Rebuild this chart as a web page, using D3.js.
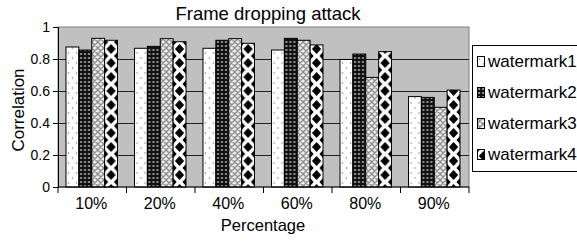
<!DOCTYPE html>
<html>
<head>
<meta charset="utf-8">
<script src="https://cdn.jsdelivr.net/npm/d3@7"></script>
<style>
  body { margin: 0; background: #fff; }
  svg text { font-family: Arial, "Liberation Sans", sans-serif; fill: #000; }
</style>
</head>
<body>
<div id="chart"></div>
<script>
// values
var categories = ["10%", "20%", "40%", "60%", "80%", "90%"];
var seriesNames = ["watermark1", "watermark2", "watermark3", "watermark4"];
var watermark1 = [0.875, 0.867, 0.867, 0.856, 0.797, 0.565];
var watermark2 = [0.856, 0.879, 0.917, 0.929, 0.831, 0.560];
var watermark3 = [0.929, 0.927, 0.927, 0.917, 0.685, 0.498];
var watermark4 = [0.917, 0.908, 0.898, 0.888, 0.846, 0.606];
var yTicks = [0, 0.2, 0.4, 0.6, 0.8, 1];

var seriesValues = [watermark1, watermark2, watermark3, watermark4];

var width = 577, height = 242;
var plot = { left: 58, right: 469, top: 27, bottom: 187 };

var svg = d3.select('#chart').append('svg')
    .attr('width', width)
    .attr('height', height);

var x0 = d3.scaleBand().domain(categories).range([plot.left, plot.right]);
var x1 = d3.scaleBand().domain(seriesNames).range([8, 59.5]);
var y = d3.scaleLinear().domain([0, 1]).range([plot.bottom, plot.top]);
var bw = x1.bandwidth();

// fill patterns (like the old b/w office charts)
var defs = svg.append('defs');

var p1 = defs.append('pattern').attr('id', 'pat0')
    .attr('patternUnits', 'userSpaceOnUse').attr('width', 8).attr('height', 10);
p1.append('rect').attr('width', 8).attr('height', 10).attr('fill', '#fff');
p1.append('circle').attr('cx', 2.5).attr('cy', 3).attr('r', 0.8).attr('fill', '#888');
p1.append('circle').attr('cx', 6.5).attr('cy', 8).attr('r', 0.8).attr('fill', '#888');

var p2 = defs.append('pattern').attr('id', 'pat1')
    .attr('patternUnits', 'userSpaceOnUse').attr('width', 4).attr('height', 4);
p2.append('rect').attr('width', 4).attr('height', 4).attr('fill', '#111');
p2.append('rect').attr('x', 1).attr('y', 1).attr('width', 2.2).attr('height', 2)
    .attr('rx', 0.8).attr('fill', '#9a9a9a');

var p3 = defs.append('pattern').attr('id', 'pat2')
    .attr('patternUnits', 'userSpaceOnUse').attr('width', 6).attr('height', 6);
p3.append('rect').attr('width', 6).attr('height', 6).attr('fill', '#f4f4f4');
p3.append('path').attr('d', 'M0,0L6,6M6,0L0,6M-1,5L1,7M5,-1L7,1')
    .attr('stroke', '#8a8a8a').attr('stroke-width', 1.4);

var p4 = defs.append('pattern').attr('id', 'pat3')
    .attr('patternUnits', 'userSpaceOnUse').attr('width', bw).attr('height', 14);
p4.append('rect').attr('width', bw).attr('height', 14).attr('fill', '#fff');
p4.append('path')
    .attr('d', 'M' + (bw / 2) + ',2L' + (bw / 2 + 4.6) + ',7L' + (bw / 2) + ',12L' + (bw / 2 - 4.6) + ',7Z')
    .attr('fill', '#000');
[[0, 0], [bw, 0], [0, 14], [bw, 14]].forEach(function (c) {
    p4.append('path')
        .attr('d', 'M' + c[0] + ',' + (c[1] - 4) + 'L' + (c[0] + 3.5) + ',' + c[1] + 'L' + c[0] + ',' + (c[1] + 4) + 'L' + (c[0] - 3.5) + ',' + c[1] + 'Z')
        .attr('fill', '#000');
});

// plot area
svg.append('rect')
    .attr('x', plot.left).attr('y', plot.top)
    .attr('width', plot.right - plot.left).attr('height', plot.bottom - plot.top)
    .attr('fill', '#c0c0c0')
    .attr('stroke', '#808080');

// gridlines
svg.append('g').selectAll('line')
    .data(yTicks.filter(function (d) { return d > 0 && d < 1; }))
    .enter().append('line')
    .attr('x1', plot.left).attr('x2', plot.right)
    .attr('y1', function (d) { return y(d) + 0.5; })
    .attr('y2', function (d) { return y(d) + 0.5; })
    .attr('stroke', '#202020');

// bars
var groups = svg.append('g').selectAll('g')
    .data(categories)
    .enter().append('g');

groups.each(function (cat, ci) {
    var g = d3.select(this);
    seriesNames.forEach(function (s, si) {
        var v = seriesValues[si][ci];
        g.append('g')
            .attr('transform', 'translate(' + (x0(cat) + x1(s)) + ',0)')
            .append('rect')
            .attr('x', 0)
            .attr('y', y(v))
            .attr('width', bw)
            .attr('height', y(0) - y(v))
            .attr('fill', 'url(#pat' + si + ')')
            .attr('stroke', '#000')
            .attr('stroke-width', 1);
    });
});

// y axis
var yAxis = d3.axisLeft(y).tickValues(yTicks).tickSize(5)
    .tickFormat(function (d) { return d === 0 || d === 1 ? d : d3.format('.1f')(d); });
var gy = svg.append('g')
    .attr('transform', 'translate(' + plot.left + ',0)')
    .call(yAxis);
gy.select('.domain').attr('stroke', '#000');
gy.selectAll('text').style('font-size', '14px').attr('dy', '0.35em');

// x axis, ticks on category boundaries
var gx = svg.append('g')
    .attr('transform', 'translate(0,' + plot.bottom + ')');
gx.append('line').attr('x1', plot.left).attr('x2', plot.right)
    .attr('stroke', '#000');
gx.selectAll('.tk')
    .data(categories.concat(['end']))
    .enter().append('line')
    .attr('class', 'tk')
    .attr('x1', function (d, i) { return i < categories.length ? x0(d) : plot.right; })
    .attr('x2', function (d, i) { return i < categories.length ? x0(d) : plot.right; })
    .attr('y1', 0).attr('y2', 6)
    .attr('stroke', '#000');
gx.selectAll('text')
    .data(categories)
    .enter().append('text')
    .attr('x', function (d) { return x0(d) + x0.bandwidth() / 2 - 1; })
    .attr('y', 22)
    .attr('text-anchor', 'middle')
    .style('font-size', '16px')
    .text(function (d) { return d; });

// titles
svg.append('text')
    .attr('x', 268).attr('y', 20)
    .attr('text-anchor', 'middle')
    .style('font-size', '18.5px')
    .text('Frame dropping attack');

svg.append('text')
    .attr('x', 263).attr('y', 231)
    .attr('text-anchor', 'middle')
    .style('font-size', '16.5px')
    .text('Percentage');

svg.append('text')
    .attr('transform', 'translate(24,110) rotate(-90)')
    .attr('text-anchor', 'middle')
    .style('font-size', '17px')
    .text('Correlation');

// legend
var legend = svg.append('g');
legend.append('rect')
    .attr('x', 472.5).attr('y', 45.5)
    .attr('width', 120).attr('height', 126)
    .attr('fill', '#fff').attr('stroke', '#000');

var item = legend.selectAll('.legend')
    .data(seriesNames)
    .enter().append('g')
    .attr('class', 'legend')
    .attr('transform', function (d, i) { return 'translate(477,' + (56 + i * 31) + ')'; });

item.append('rect')
    .attr('x', 0.5).attr('y', 0.5)
    .attr('width', 7).attr('height', 10)
    .attr('fill', function (d, i) { return 'url(#pat' + i + ')'; })
    .attr('stroke', '#000');

item.append('text')
    .attr('x', 11).attr('y', 11)
    .style('font-size', '17px')
    .text(function (d) { return d; });
</script>
</body>
</html>
